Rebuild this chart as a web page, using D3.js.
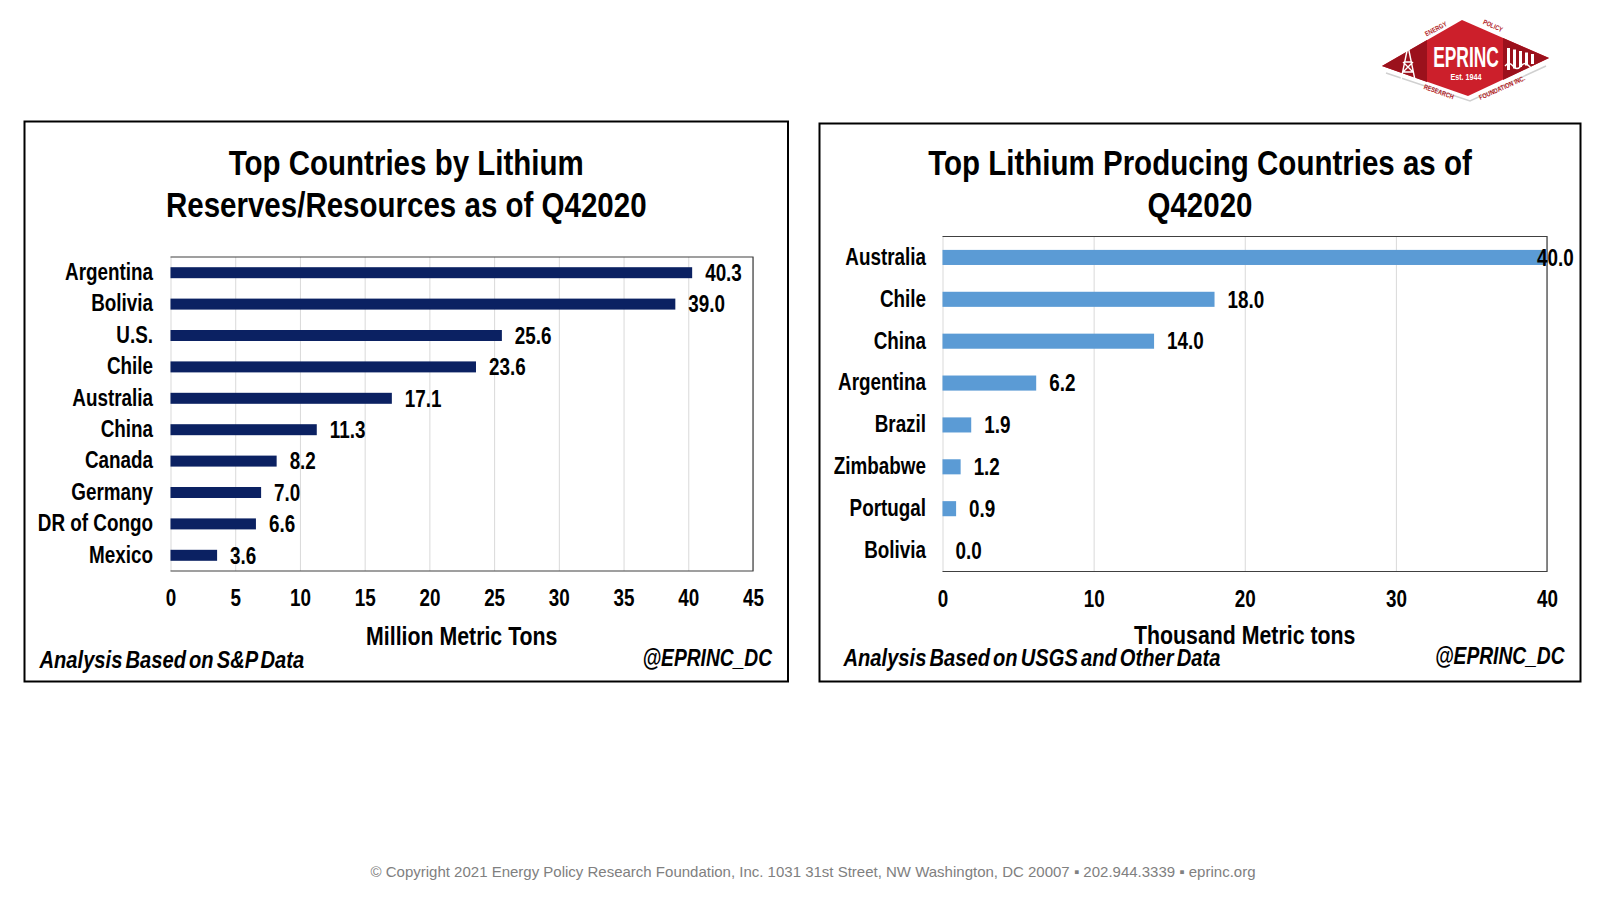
<!DOCTYPE html>
<html>
<head>
<meta charset="utf-8">
<script src="https://cdn.jsdelivr.net/npm/d3@7"></script>
<style>
  body { margin: 0; background: #fff; }
  text { font-family: "Liberation Sans", Arial, sans-serif; font-weight: bold; fill: #000; }
  .title { font-size: 36px; }
  .lbl { font-size: 23px; }
  .axtitle { font-size: 26px; }
  .note { font-size: 24px; font-style: italic; word-spacing: -3px; }
  .footer { font-weight: normal; font-size: 15px; fill: #808080; }
</style>
</head>
<body>
<script>
// 1 - Données
const reserveCountries = ["Argentina", "Bolivia", "U.S.", "Chile", "Australia", "China", "Canada", "Germany", "DR of Congo", "Mexico"];
const reserveValues = [40.3, 39.0, 25.6, 23.6, 17.1, 11.3, 8.2, 7.0, 6.6, 3.6];
const reserveTicks = [0, 5, 10, 15, 20, 25, 30, 35, 40, 45];

const prodCountries = ["Australia", "Chile", "China", "Argentina", "Brazil", "Zimbabwe", "Portugal", "Bolivia"];
const prodValues = [40.0, 18.0, 14.0, 6.2, 1.9, 1.2, 0.9, 0.0];
const prodTicks = [0, 10, 20, 30, 40];

const svg = d3.select("body")
    .append("svg")
    .attr("width", 1600)
    .attr("height", 900);

// Pas de police "Narrow" installée : on resserre le texte horizontalement autour de son point d'ancrage
function narrow(sel, s) {
    sel.each(function () {
        const t = d3.select(this);
        const x = +t.attr("x") || 0, y = +t.attr("y") || 0;
        t.attr("transform", `translate(${x},${y}) scale(${s},1) translate(${-x},${-y})`);
    });
}

// 2 - Un panneau (cadre + titre + barres)
function drawPanel(p) {
    const g = svg.append("g");

    // cadre noir
    g.append("rect")
        .attr("x", p.box[0]).attr("y", p.box[1])
        .attr("width", p.box[2] - p.box[0]).attr("height", p.box[3] - p.box[1])
        .attr("fill", "none").attr("stroke", "#000").attr("stroke-width", 2);

    // titre sur deux lignes
    const cx = (p.box[0] + p.box[2]) / 2;
    const title = g.append("text").attr("class", "title").attr("text-anchor", "middle")
        .attr("x", cx).attr("y", p.titleY);
    p.title.forEach((line, i) => {
        title.append("tspan").attr("x", cx).attr("dy", i ? 42 : 0).text(line);
    });
    narrow(title, 0.82);

    const x = d3.scaleLinear()
        .domain([0, d3.max(p.ticks)])
        .range([p.plot[0], p.plot[2]]);

    const y = d3.scaleBand()
        .domain(p.categories)
        .range([p.plot[1], p.plot[3]])
        .paddingInner(p.pad)
        .paddingOuter(p.pad / 2);

    // grille verticale
    g.append("g")
        .attr("transform", `translate(0,${p.plot[3]})`)
        .call(d3.axisBottom(x).tickValues(p.ticks).tickSize(-(p.plot[3] - p.plot[1])).tickFormat(""))
        .call(a => a.select(".domain").remove())
        .call(a => a.selectAll("line").attr("stroke", "#d9d9d9"));

    // bordure de la zone de tracé (haut, droite, bas)
    g.append("path")
        .attr("d", `M${p.plot[0]},${p.plot[1]}H${p.plot[2]}V${p.plot[3]}H${p.plot[0]}`)
        .attr("fill", "none").attr("stroke", "#404040").attr("stroke-width", 1.2);

    // étiquettes de l'axe x
    g.append("g")
        .attr("transform", `translate(0,${p.plot[3]})`)
        .call(d3.axisBottom(x).tickValues(p.ticks).tickSize(0).tickPadding(19))
        .call(a => a.select(".domain").remove())
        .call(a => a.selectAll("text").attr("class", "lbl").attr("fill", "#000").call(narrow, 0.82));

    // étiquettes des pays
    g.append("g")
        .attr("transform", `translate(${p.plot[0]},0)`)
        .call(d3.axisLeft(y).tickSize(0).tickPadding(p.plot[0] - p.labelRight))
        .call(a => a.select(".domain").remove())
        .call(a => a.selectAll("text").attr("class", "lbl").attr("fill", "#000").call(narrow, 0.82));

    const rows = p.categories.map((c, i) => ({ name: c, value: p.values[i] }));

    // barres
    g.selectAll("rect.bar")
        .data(rows)
        .enter()
        .append("rect")
        .attr("class", "bar")
        .attr("x", x(0))
        .attr("y", d => y(d.name))
        .attr("width", d => x(d.value) - x(0))
        .attr("height", y.bandwidth())
        .attr("fill", p.color);

    // valeurs
    g.selectAll("text.val")
        .data(rows)
        .enter()
        .append("text")
        .attr("class", "lbl val")
        .attr("x", d => Math.min(x(d.value) + 13, p.plot[2] - 10))
        .attr("y", d => y(d.name) + y.bandwidth() / 2)
        .attr("dy", "0.36em")
        .text(d => d3.format(".1f")(d.value))
        .call(narrow, 0.82);

    // titre de l'axe
    g.append("text")
        .attr("class", "axtitle")
        .attr("text-anchor", "middle")
        .attr("x", (p.plot[0] + p.plot[2]) / 2)
        .attr("y", p.axisTitleY)
        .text(p.axisTitle)
        .call(narrow, 0.82);

    // sources
    g.append("text").attr("class", "note")
        .attr("x", p.box[0] + p.noteInset).attr("y", p.noteY)
        .text(p.note)
        .call(narrow, 0.84);
    g.append("text").attr("class", "note").attr("text-anchor", "end")
        .attr("x", p.box[2] - 16).attr("y", p.noteY - 2)
        .text("@EPRINC_DC")
        .call(narrow, 0.8);
}

drawPanel({
    box: [24.5, 121.5, 788, 681.5],
    plot: [170.5, 257, 753, 571],
    title: ["Top Countries by Lithium", "Reserves/Resources as of Q42020"],
    titleY: 175,
    categories: reserveCountries,
    values: reserveValues,
    ticks: reserveTicks,
    pad: 0.65,
    labelRight: 153,
    color: "#0b2162",
    axisTitle: "Million  Metric Tons",
    axisTitleY: 645,
    note: "Analysis Based on S&P Data",
    noteInset: 15,
    noteY: 668
});

drawPanel({
    box: [819.5, 123.5, 1580.5, 681.5],
    plot: [942.5, 236.5, 1547, 571.5],
    title: ["Top Lithium Producing Countries as of", "Q42020"],
    titleY: 175,
    categories: prodCountries,
    values: prodValues,
    ticks: prodTicks,
    pad: 0.64,
    labelRight: 926,
    color: "#5b9bd5",
    axisTitle: "Thousand Metric tons",
    axisTitleY: 644,
    note: "Analysis Based on USGS and Other Data",
    noteInset: 24,
    noteY: 666
});

// 3 - Logo EPRINC (approximation)
const logo = svg.append("g");
logo.append("polyline")
    .attr("points", "1386,73 1470,101 1546,66")
    .attr("fill", "none").attr("stroke", "#d0d0d0").attr("stroke-width", 1.5);
logo.append("polygon")
    .attr("points", "1382,66 1462,20 1549,58 1468,96")
    .attr("fill", "#cc1f2b");
logo.append("polygon")
    .attr("points", "1382,66 1427,40 1427,82")
    .attr("fill", "#9b111c");
logo.append("polygon")
    .attr("points", "1503,38 1549,58 1503,80")
    .attr("fill", "#9b111c");
// derrick
logo.append("path")
    .attr("d", "M1408,46 L1401,80 M1408,46 L1415,80 M1404,62 H1412 M1402,72 H1414 M1403,62 L1413,72 M1413,62 L1403,72")
    .attr("stroke", "#fff").attr("stroke-width", 1.4).attr("fill", "none");
// barres blanches à droite
[1507, 1513, 1519, 1525, 1531].forEach((bx, i) => {
    logo.append("rect").attr("x", bx).attr("y", 48 + i * 1.5).attr("width", 3).attr("height", 22 - i * 3).attr("fill", "#fff");
});
logo.append("path")
    .attr("d", "M1505,66 q4,-5 8,0 t8,0 t8,0 t8,0")
    .attr("stroke", "#fff").attr("stroke-width", 1.4).attr("fill", "none");
logo.append("text")
    .attr("x", 1466).attr("y", 67).attr("text-anchor", "middle")
    .style("font-size", "30px").style("fill", "#fff")
    .text("EPRINC")
    .call(narrow, 0.58);
logo.append("text")
    .attr("x", 1466).attr("y", 80).attr("text-anchor", "middle")
    .style("font-size", "9px").style("fill", "#fff")
    .text("Est. 1944")
    .call(narrow, 0.8);
[["ENERGY", 1437, 31, -28], ["POLICY", 1492, 28, 24], ["RESEARCH", 1438, 94, 20], ["FOUNDATION INC.", 1503, 90, -24]]
    .forEach(([t, tx, ty, r]) => {
        logo.append("text")
            .attr("transform", `translate(${tx},${ty}) rotate(${r}) scale(0.8,1)`)
            .attr("text-anchor", "middle")
            .style("font-size", "7px").style("fill", "#b01a24")
            .text(t);
    });

// 4 - Pied de page
svg.append("text")
    .attr("class", "footer")
    .attr("x", 813).attr("y", 877)
    .attr("text-anchor", "middle")
    .text("© Copyright 2021 Energy Policy Research Foundation, Inc. 1031 31st Street, NW Washington, DC 20007 ▪ 202.944.3339 ▪ eprinc.org");
</script>
</body>
</html>
